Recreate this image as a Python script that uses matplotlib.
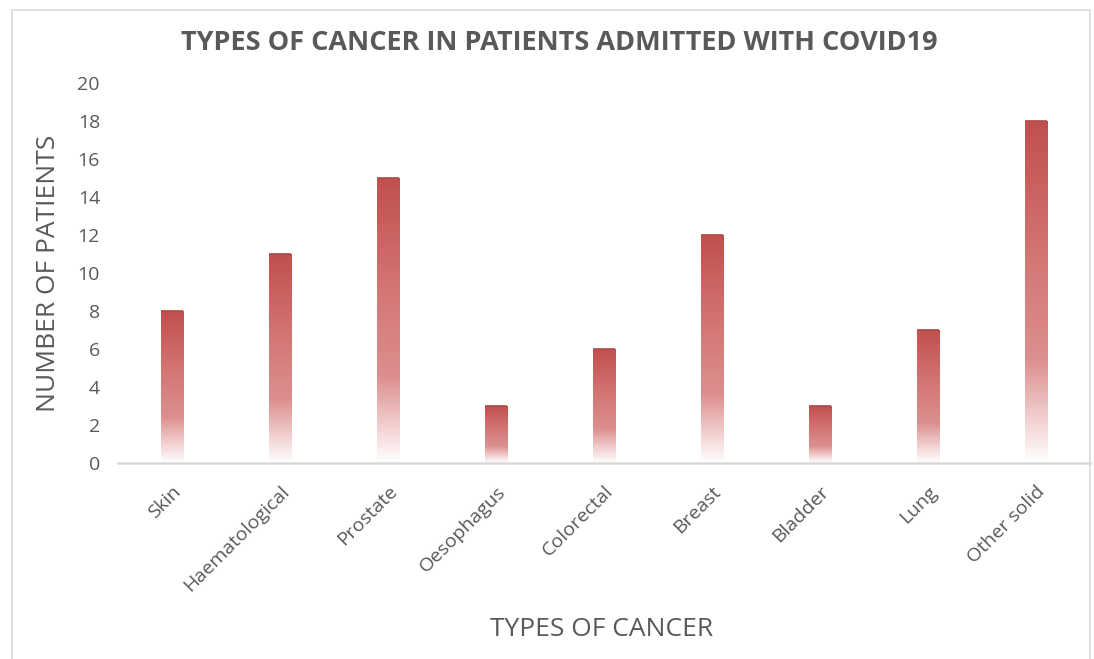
import numpy as np
import matplotlib
matplotlib.use("Agg")
import matplotlib.pyplot as plt
from matplotlib.colors import LinearSegmentedColormap
from matplotlib.patches import Rectangle

plt.rcParams['font.family'] = ['Open Sans', 'DejaVu Sans']

categories = ['Skin', 'Haematological', 'Prostate', 'Oesophagus', 'Colorectal',
              'Breast', 'Bladder', 'Lung', 'Other solid']
patients = [8, 11, 15, 3, 6, 12, 3, 7, 18]
y_ticks = [0, 2, 4, 6, 8, 10, 12, 14, 16, 18, 20]

text_grey = '#595959'

# gradient from white at the base of each bar up to brick red at the top
bar_cmap = LinearSegmentedColormap.from_list(
    'bar_fade',
    [(0.0, '#FFFFFF'), (0.12, '#F3D3D3'), (0.3, '#DD8F8F'),
     (0.6, '#D47676'), (1.0, '#C0504D')])

fig = plt.figure(figsize=(10.94, 6.59), dpi=100)
ax = fig.add_axes([118 / 1094, 196 / 659, 972 / 1094, 380 / 659])

x = np.arange(len(categories))
bars = ax.bar(x, patients, width=0.21, color='none', edgecolor='none')

grad = np.linspace(0, 1, 256).reshape(-1, 1)
for b in bars:
    x0, w, h = b.get_x(), b.get_width(), b.get_height()
    im = ax.imshow(grad, cmap=bar_cmap, origin='lower', aspect='auto',
                   extent=[x0, x0 + w, 0, h], zorder=2)
    im.set_clip_path(b)
    # slightly darker cap along the top edge
    ax.plot([x0, x0 + w], [h, h], color='#B04845', lw=1.2, zorder=3,
            solid_capstyle='butt')

ax.set_xlim(-0.5, len(categories) - 0.5)
ax.set_ylim(0, 20)
ax.set_yticks(y_ticks)
ax.set_yticklabels([str(t) for t in y_ticks], fontsize=14, color=text_grey)
ax.set_xticks(x)
ax.set_xticklabels(categories, rotation=45, ha='right', rotation_mode='anchor',
                   fontsize=14, color=text_grey)
ax.tick_params(axis='both', length=0)
ax.tick_params(axis='y', pad=13)
ax.tick_params(axis='x', pad=14)

for side in ['top', 'right', 'left']:
    ax.spines[side].set_visible(False)
ax.spines['bottom'].set_color('#D9D9D9')
ax.spines['bottom'].set_linewidth(1.8)

ax.set_ylabel('NUMBER OF PATIENTS', fontsize=19, color=text_grey, labelpad=12)
fig.text(602 / 1094, 1 - 630 / 659, 'TYPES OF CANCER', fontsize=19,
         color=text_grey, ha='center', va='center')
fig.text(559 / 1094, 1 - 43 / 659, 'TYPES OF CANCER IN PATIENTS ADMITTED WITH COVID19',
         fontsize=19.5, fontweight='bold', color=text_grey, ha='center', va='center')

# light frame around the chart area
fig.patches.append(Rectangle((12 / 1094, -0.01), 1078 / 1094, 1 - 10 / 659 + 0.01,
                             transform=fig.transFigure, fill=False,
                             edgecolor='#D9D9D9', linewidth=1.2))

fig.savefig('out.png', dpi=100)
